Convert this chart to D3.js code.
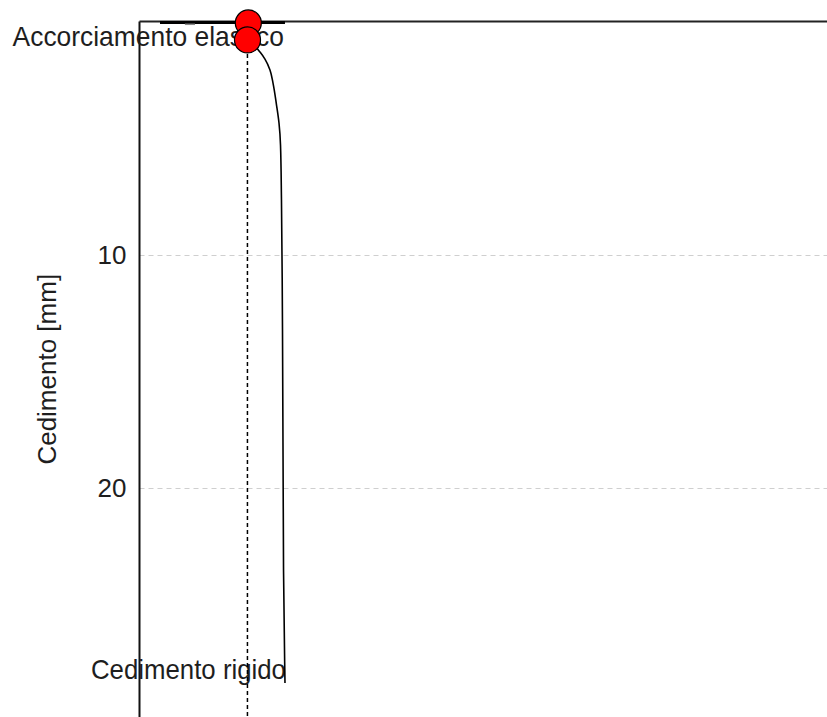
<!DOCTYPE html>
<html>
<head>
<meta charset="utf-8">
<script src="https://cdn.jsdelivr.net/npm/d3@7"></script>
<style>
  html, body { margin: 0; padding: 0; background: #fff; }
  svg { display: block; }
  text { font-family: "Liberation Sans", Arial, sans-serif; fill: #1e1e1e; }
</style>
</head>
<body>
<svg id="chart" width="827" height="717"></svg>
<script>
// ---- data ----
const settlementTicks = [10, 20];
const yTitle = "Cedimento [mm]";
// load-settlement curve (load in arbitrary units, settlement in mm)
const curveLoad = [157, 166.5, 175.3, 182.5, 189.8, 194.2, 199.3, 202.9, 205.1, 206.5, 208, 209.5, 211.6];
const curveSettlement = [0.79, 1.01, 1.31, 1.61, 2.08, 2.64, 3.58, 4.35, 5.29, 7.65, 13.22, 23.51, 28.35];
// reference points (red markers)
const pointLoad = [158.3, 157.1];
const pointSettlement = [0.06, 0.79];
// elastic shortening line (top)
const topLineLoad = [29.8, 211.6];
const topLineSettlement = [0.04, 0.04];
const greyLineLoad = [66, 80.7];
const greyLineSettlement = [0.12, 0.12];
// vertical dashed reference
const refLoad = 157;
const refSettlement = [0.79, 30];
const labelTexts = ["Accorciamento elastico", "Cedimento rigido"];

// ---- scales ----
const svg = d3.select("#chart");
const x = d3.scaleLinear().domain([0, 1000]).range([139.5, 827]);
const y = d3.scaleLinear().domain([0, 30]).range([21.5, 721.5]);

// gridlines
svg.append("g").selectAll("line").data(settlementTicks).join("line")
  .attr("x1", x(0)).attr("x2", x(1000))
  .attr("y1", d => Math.round(y(d)) + 0.5).attr("y2", d => Math.round(y(d)) + 0.5)
  .attr("stroke", "#cfcfcf").attr("stroke-width", 1).attr("stroke-dasharray", "5,4");

// y axis (ticks labels only)
const yAxis = d3.axisLeft(y).tickValues(settlementTicks).tickSize(0).tickPadding(13).tickFormat(d3.format("d"));
const ga = svg.append("g").attr("transform", `translate(${x(0)},0)`).call(yAxis);
ga.select(".domain").remove();
ga.selectAll("text").style("font-size", "26px").attr("font-family", "Liberation Sans, Arial, sans-serif").attr("fill", "#1e1e1e");

// frame: left and top
svg.append("line").attr("x1", x(0)).attr("x2", x(0)).attr("y1", y(0)).attr("y2", 717)
  .attr("stroke", "#111").attr("stroke-width", 2);
svg.append("line").attr("x1", x(0)).attr("x2", x(1000)).attr("y1", y(0)).attr("y2", y(0))
  .attr("stroke", "#222").attr("stroke-width", 2);

// y title
svg.append("text")
  .attr("transform", `translate(56,${(y(0) + 717) / 2}) rotate(-90)`)
  .attr("text-anchor", "middle").style("font-size", "26px").text(yTitle);

// labels
const n = curveLoad.length;
svg.append("text")
  .attr("transform", `translate(${x(curveLoad[n - 1]) - 1},46) scale(1,1.08)`)
  .attr("text-anchor", "end").style("font-size", "26.4px").text(labelTexts[0]);
svg.append("text")
  .attr("transform", `translate(${x(curveLoad[n - 1]) + 1},679) scale(1,1.08)`)
  .attr("text-anchor", "end").style("font-size", "25.8px").text(labelTexts[1]);

// top elastic line
svg.append("line")
  .attr("x1", x(topLineLoad[0])).attr("x2", x(topLineLoad[1]))
  .attr("y1", y(topLineSettlement[0])).attr("y2", y(topLineSettlement[1]))
  .attr("stroke", "#000").attr("stroke-width", 3);
svg.append("line")
  .attr("x1", x(greyLineLoad[0])).attr("x2", x(greyLineLoad[1]))
  .attr("y1", y(greyLineSettlement[0])).attr("y2", y(greyLineSettlement[1]))
  .attr("stroke", "#888").attr("stroke-width", 1.5);

// dashed reference line
svg.append("line")
  .attr("x1", x(refLoad)).attr("x2", x(refLoad))
  .attr("y1", y(refSettlement[0])).attr("y2", y(refSettlement[1]))
  .attr("stroke", "#000").attr("stroke-width", 1.5).attr("stroke-dasharray", "4,3");

// curve
const pts = curveLoad.map((l, i) => [l, curveSettlement[i]]);
svg.append("path").datum(pts)
  .attr("d", d3.line().x(d => x(d[0])).y(d => y(d[1])).curve(d3.curveMonotoneY))
  .attr("fill", "none").attr("stroke", "#000").attr("stroke-width", 1.6);

// red markers
svg.append("g").selectAll("circle").data(pointLoad.map((l, i) => [l, pointSettlement[i]])).join("circle")
  .attr("cx", d => x(d[0])).attr("cy", d => y(d[1])).attr("r", 13)
  .attr("fill", "#ff0000").attr("stroke", "#000").attr("stroke-width", 1.2);
</script>
</body>
</html>
